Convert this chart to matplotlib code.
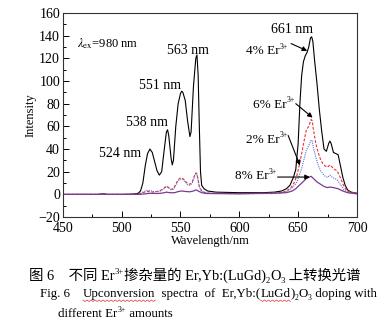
import matplotlib
matplotlib.use('Agg')
import matplotlib.pyplot as plt
from matplotlib.transforms import IdentityTransform

plt.rcParams['font.family'] = ['Liberation Serif', 'Noto Sans CJK SC']
plt.rcParams['mathtext.fontset'] = 'stix'

# Upconversion spectra, wavelength (nm) vs intensity
wl_4 = [450, 480, 484, 488, 500, 510, 514, 516, 518, 520, 522, 524, 526, 528, 530, 532, 534, 536,
        538, 539, 540, 542, 543, 544, 546, 548, 550, 551, 552, 554, 556, 558, 559, 561, 563, 564,
        565, 566, 567, 568, 570, 573, 580, 600, 620, 630, 636, 640, 643, 646, 648, 650, 651.5, 653,
        654.5, 656, 657.5, 659, 660.5, 661.5, 662.5, 664, 666, 668, 670, 672, 674, 676, 677, 678,
        680, 682, 684, 686, 688, 690, 692, 695, 700]
int_4 = [0, 0, 0.5, 0, 0, 0.3, 1, 3, 10, 25, 36, 40, 37, 29, 21, 17, 20, 38,
         55, 57, 52, 32, 26, 30, 60, 80, 89, 91, 90, 83, 65, 51, 55, 95, 120, 123,
         105, 60, 20, 8, 5, 3, 2, 1.5, 1.5, 2, 3, 5, 8, 15, 22, 45, 80, 105,
         117, 122, 125, 130, 138, 139, 135, 118, 98, 75, 56, 40, 38, 45, 47, 45,
         37, 36, 35, 25, 15, 8, 4, 2, 1]

wl_6 = [450, 480, 484, 488, 510, 515, 518, 521, 524, 527, 530, 533, 536, 538, 540, 542, 544, 546,
        548, 550, 552, 554, 556, 558, 560, 562, 563, 564, 565, 566, 568, 571, 575, 600, 630, 636,
        640, 644, 647, 649, 651, 653, 655, 657, 659, 661, 662, 663, 665, 667, 669, 671, 673, 675,
        677, 679, 681, 683, 685, 687, 689, 691, 694, 700]
int_6 = [0, 0, 0.5, 0, 0, 0.5, 1.5, 2.5, 2.5, 2, 2.5, 3.5, 5.5, 7.5, 6, 4.5, 5, 9,
         13, 14.5, 14, 12, 9.5, 9, 11, 17, 19, 18, 13, 7, 3, 1.5, 1, 0.7, 0.8, 1.5,
         3, 6, 11, 17, 26, 36, 47, 57, 60, 66, 65, 57, 45, 37, 31, 27, 25, 24,
         26, 24, 22, 21, 17, 12, 7, 4, 2, 1]

wl_2 = [450, 480, 484, 488, 510, 515, 518, 521, 524, 527, 530, 533, 536, 538, 540, 542, 544, 546,
        548, 550, 552, 554, 556, 558, 560, 562, 563, 564, 565, 566, 568, 571, 575, 600, 630, 636,
        640, 644, 647, 649, 651, 653, 655, 657, 659, 661, 662, 663, 665, 667, 669, 671, 673, 675,
        677, 679, 681, 683, 685, 687, 689, 691, 694, 700]
int_2 = [0, 0, 0.5, 0, 0, 0.5, 2, 3.5, 3.5, 2.5, 2.5, 3, 5, 7, 5.5, 4, 4.5, 8,
         12, 13.5, 13, 11, 8.5, 8, 10, 16, 18, 17, 12, 6.5, 3, 1.5, 1, 0.7, 0.8, 1.3,
         2.5, 5, 8, 11, 17, 23, 31, 39, 43, 48, 47, 41, 33, 26, 21, 18, 16, 15,
         17, 15, 14, 13, 10, 7, 4, 2.5, 1.5, 0.5]

wl_8 = [450, 480, 484, 488, 515, 520, 524, 530, 535, 538, 541, 545, 548, 551, 555, 558, 561, 563,
        565, 568, 572, 600, 640, 645, 648, 651, 654, 657, 659, 661, 663, 666, 669, 672, 675, 677,
        680, 684, 688, 692, 700]
int_8 = [0, 0, 0.3, 0, 0, 0.5, 1, 0.8, 1.2, 2, 1.5, 1.5, 2.5, 3, 2.5, 2.3, 3, 4,
         3, 1.5, 0.8, 0.5, 1.5, 3, 5, 8, 11, 14, 15, 16, 14, 11, 9, 7, 6, 6.5,
         6, 5, 3, 1.5, 0.5]

peak_nm = [524, 538, 551, 563, 661]
peak_txt = [(499, 36), (521.5, 63.5), (533, 96), (556, 127), (645, 145)]

dopings = ['4%', '6%', '2%', '8%']
dop_txt = [(641, 127), (647, 80), (641, 49), (632, 17)]       # right end of each label
dop_tail = [(644, 133), (648, 80), (641.5, 52), (632.5, 15.3)]
dop_head = [(657.7, 126.6), (662.3, 67.7), (651.5, 25.6), (660, 15.3)]

fig = plt.figure(figsize=(3.88, 3.24), dpi=100)
ax = fig.add_axes([0.162, 0.330, 0.758, 0.630])
renderer = fig.canvas.get_renderer()
px = IdentityTransform()


def rich_text(x, y, parts, size, ha='left'):
    """Draw text pieces (text, kind) side by side from a baseline point in pixels;
    kind is '' for normal, 'sup' or 'sub' for small raised / lowered text."""
    scale = 100 / 72
    items = []
    for s, kind in parts:
        fs = size * 0.6 if kind else size
        dy = {'': 0, 'sup': size * 0.42, 'sub': -size * 0.2}[kind] * scale
        t = fig.text(0, 0, s, fontsize=fs, transform=px, va='baseline', ha='left')
        w = t.get_window_extent(renderer).width
        items.append((t, dy, w))
    total = sum(w for _, _, w in items)
    cx = x - total if ha == 'right' else x
    out = []
    for t, dy, w in items:
        t.set_position((cx, y + dy))
        out.append((t, cx, w))
        cx += w
    return out


ax.plot(wl_4, int_4, color='black', lw=0.8)
ax.plot(wl_6, int_6, color='#e8312f', lw=0.8, ls=(0, (2.5, 1.5)))
ax.plot(wl_2, int_2, color='#5a6ed8', lw=0.8, ls=(0, (1, 1)))
ax.plot(wl_8, int_8, color='#7b3a8e', lw=0.9)

ax.set_xlim(450, 700)
ax.set_ylim(-20, 160)
ax.set_xticks([450, 500, 550, 600, 650, 700])
ax.set_xticks([475, 525, 575, 625, 675], minor=True)
ax.set_yticks(range(-20, 161, 20))
ax.set_yticks(range(-10, 161, 20), minor=True)
ax.tick_params(which='both', direction='in', top=False, right=False, labelsize=10, pad=2)
ax.tick_params(axis='x', which='both', pad=3.5)
ax.tick_params(which='major', length=4, width=0.7)
ax.tick_params(which='minor', length=2.5, width=0.7)
ax.set_yticklabels(['\u221220'] + [str(v) for v in range(0, 161, 20)])
for s in ax.spines.values():
    s.set_linewidth(0.8)
    s.set_color('#333333')

ax.set_xlabel('Wavelength/nm', fontsize=9, labelpad=0)
ax.set_ylabel('Intensity', fontsize=9, labelpad=1)

ax.text(462, 133, r'$\lambda_{\rm ex}$=980 nm', fontsize=9, va='center')
for nm, (tx, ty) in zip(peak_nm, peak_txt):
    ax.text(tx, ty, f'{nm} nm', fontsize=10, ha='center', va='center')

arrow = dict(arrowstyle='-|>', color='black', lw=0.8, mutation_scale=7, shrinkA=0, shrinkB=0)
for label, pos, tail, head in zip(dopings, dop_txt, dop_tail, dop_head):
    bx, by = ax.transData.transform(pos)
    rich_text(bx, by - 4, [(label + ' Er', ''), ('3+', 'sup')], 9.5, ha='right')
    ax.annotate('', xy=head, xytext=tail, arrowprops=arrow)

# captions below the chart (pixel positions of the baselines)
H = 324
rich_text(29, H - 280, [('图 6    不同 Er', ''), ('3+', 'sup'), ('掺杂量的 Er,Yb:(LuGd)', ''),
                        ('2', 'sub'), ('O', ''), ('3', 'sub'), (' 上转换光谱', '')], 10.4)
line2 = rich_text(40, H - 297, [('Fig. 6    ', ''), ('Upconversion', ''),
                                ('  spectra  of  Er,Yb:(', ''), ('LuGd', ''), (')', ''),
                                ('2', 'sub'), ('O', ''), ('3', 'sub'), (' doping with', '')], 9.3)
rich_text(58, H - 317, [('different Er', ''), ('3+', 'sup'), (' amounts', '')], 9.3)

# wavy red spell-check underlines
for idx in (1, 3):
    t, x0, w = line2[idx]
    xs, ys = [], []
    n = int(w // 2)
    for k in range(n + 1):
        xs.append(x0 + k * w / n)
        ys.append(H - 300 - (k % 2) * 1.5)
    fig.add_artist(plt.Line2D(xs, ys, transform=px, color='#e03030', lw=0.5))

fig.savefig('out.png', dpi=100)
